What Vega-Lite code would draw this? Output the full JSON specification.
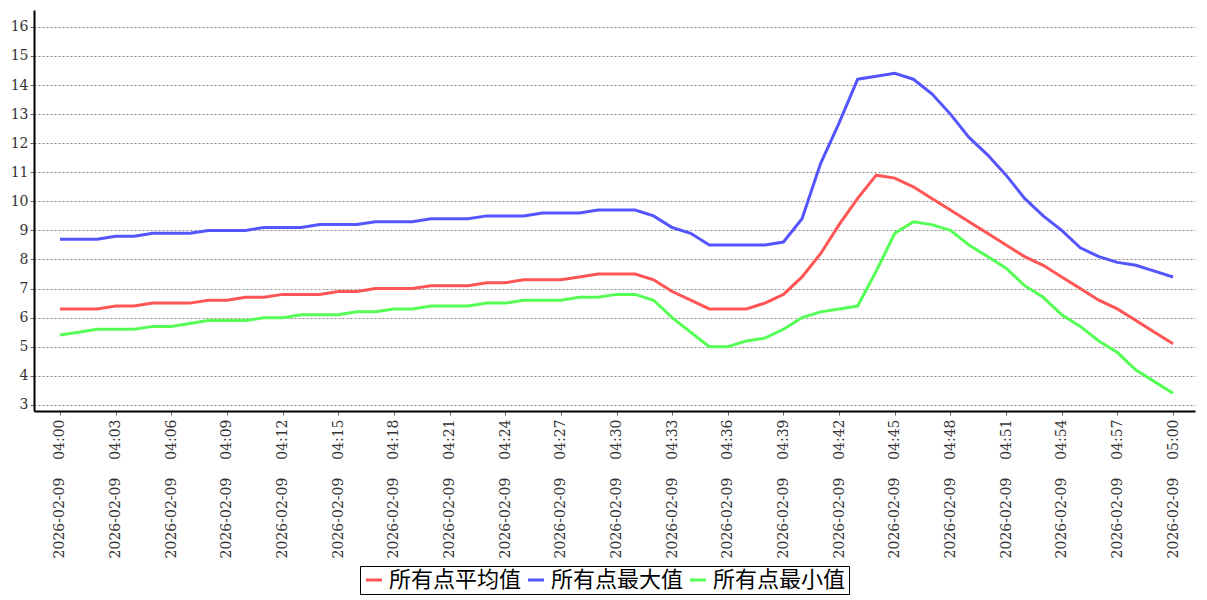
{
  "$schema": "https://vega.github.io/schema/vega-lite/v6.json",
  "width": 1161,
  "height": 401,
  "autosize": {"type": "none"},
  "padding": {"left": 34, "top": 10, "right": 12, "bottom": 189},
  "background": "white",
  "config": {"view": {"stroke": null}},
  "data": {"values": [
    {"t":"2026-02-09T04:00","所有点平均值":6.3,"所有点最大值":8.7,"所有点最小值":5.4},
    {"t":"2026-02-09T04:01","所有点平均值":6.3,"所有点最大值":8.7,"所有点最小值":5.5},
    {"t":"2026-02-09T04:02","所有点平均值":6.3,"所有点最大值":8.7,"所有点最小值":5.6},
    {"t":"2026-02-09T04:03","所有点平均值":6.4,"所有点最大值":8.8,"所有点最小值":5.6},
    {"t":"2026-02-09T04:04","所有点平均值":6.4,"所有点最大值":8.8,"所有点最小值":5.6},
    {"t":"2026-02-09T04:05","所有点平均值":6.5,"所有点最大值":8.9,"所有点最小值":5.7},
    {"t":"2026-02-09T04:06","所有点平均值":6.5,"所有点最大值":8.9,"所有点最小值":5.7},
    {"t":"2026-02-09T04:07","所有点平均值":6.5,"所有点最大值":8.9,"所有点最小值":5.8},
    {"t":"2026-02-09T04:08","所有点平均值":6.6,"所有点最大值":9.0,"所有点最小值":5.9},
    {"t":"2026-02-09T04:09","所有点平均值":6.6,"所有点最大值":9.0,"所有点最小值":5.9},
    {"t":"2026-02-09T04:10","所有点平均值":6.7,"所有点最大值":9.0,"所有点最小值":5.9},
    {"t":"2026-02-09T04:11","所有点平均值":6.7,"所有点最大值":9.1,"所有点最小值":6.0},
    {"t":"2026-02-09T04:12","所有点平均值":6.8,"所有点最大值":9.1,"所有点最小值":6.0},
    {"t":"2026-02-09T04:13","所有点平均值":6.8,"所有点最大值":9.1,"所有点最小值":6.1},
    {"t":"2026-02-09T04:14","所有点平均值":6.8,"所有点最大值":9.2,"所有点最小值":6.1},
    {"t":"2026-02-09T04:15","所有点平均值":6.9,"所有点最大值":9.2,"所有点最小值":6.1},
    {"t":"2026-02-09T04:16","所有点平均值":6.9,"所有点最大值":9.2,"所有点最小值":6.2},
    {"t":"2026-02-09T04:17","所有点平均值":7.0,"所有点最大值":9.3,"所有点最小值":6.2},
    {"t":"2026-02-09T04:18","所有点平均值":7.0,"所有点最大值":9.3,"所有点最小值":6.3},
    {"t":"2026-02-09T04:19","所有点平均值":7.0,"所有点最大值":9.3,"所有点最小值":6.3},
    {"t":"2026-02-09T04:20","所有点平均值":7.1,"所有点最大值":9.4,"所有点最小值":6.4},
    {"t":"2026-02-09T04:21","所有点平均值":7.1,"所有点最大值":9.4,"所有点最小值":6.4},
    {"t":"2026-02-09T04:22","所有点平均值":7.1,"所有点最大值":9.4,"所有点最小值":6.4},
    {"t":"2026-02-09T04:23","所有点平均值":7.2,"所有点最大值":9.5,"所有点最小值":6.5},
    {"t":"2026-02-09T04:24","所有点平均值":7.2,"所有点最大值":9.5,"所有点最小值":6.5},
    {"t":"2026-02-09T04:25","所有点平均值":7.3,"所有点最大值":9.5,"所有点最小值":6.6},
    {"t":"2026-02-09T04:26","所有点平均值":7.3,"所有点最大值":9.6,"所有点最小值":6.6},
    {"t":"2026-02-09T04:27","所有点平均值":7.3,"所有点最大值":9.6,"所有点最小值":6.6},
    {"t":"2026-02-09T04:28","所有点平均值":7.4,"所有点最大值":9.6,"所有点最小值":6.7},
    {"t":"2026-02-09T04:29","所有点平均值":7.5,"所有点最大值":9.7,"所有点最小值":6.7},
    {"t":"2026-02-09T04:30","所有点平均值":7.5,"所有点最大值":9.7,"所有点最小值":6.8},
    {"t":"2026-02-09T04:31","所有点平均值":7.5,"所有点最大值":9.7,"所有点最小值":6.8},
    {"t":"2026-02-09T04:32","所有点平均值":7.3,"所有点最大值":9.5,"所有点最小值":6.6},
    {"t":"2026-02-09T04:33","所有点平均值":6.9,"所有点最大值":9.1,"所有点最小值":6.0},
    {"t":"2026-02-09T04:34","所有点平均值":6.6,"所有点最大值":8.9,"所有点最小值":5.5},
    {"t":"2026-02-09T04:35","所有点平均值":6.3,"所有点最大值":8.5,"所有点最小值":5.0},
    {"t":"2026-02-09T04:36","所有点平均值":6.3,"所有点最大值":8.5,"所有点最小值":5.0},
    {"t":"2026-02-09T04:37","所有点平均值":6.3,"所有点最大值":8.5,"所有点最小值":5.2},
    {"t":"2026-02-09T04:38","所有点平均值":6.5,"所有点最大值":8.5,"所有点最小值":5.3},
    {"t":"2026-02-09T04:39","所有点平均值":6.8,"所有点最大值":8.6,"所有点最小值":5.6},
    {"t":"2026-02-09T04:40","所有点平均值":7.4,"所有点最大值":9.4,"所有点最小值":6.0},
    {"t":"2026-02-09T04:41","所有点平均值":8.2,"所有点最大值":11.3,"所有点最小值":6.2},
    {"t":"2026-02-09T04:42","所有点平均值":9.2,"所有点最大值":12.7,"所有点最小值":6.3},
    {"t":"2026-02-09T04:43","所有点平均值":10.1,"所有点最大值":14.2,"所有点最小值":6.4},
    {"t":"2026-02-09T04:44","所有点平均值":10.9,"所有点最大值":14.3,"所有点最小值":7.6},
    {"t":"2026-02-09T04:45","所有点平均值":10.8,"所有点最大值":14.4,"所有点最小值":8.9},
    {"t":"2026-02-09T04:46","所有点平均值":10.5,"所有点最大值":14.2,"所有点最小值":9.3},
    {"t":"2026-02-09T04:47","所有点平均值":10.1,"所有点最大值":13.7,"所有点最小值":9.2},
    {"t":"2026-02-09T04:48","所有点平均值":9.7,"所有点最大值":13.0,"所有点最小值":9.0},
    {"t":"2026-02-09T04:49","所有点平均值":9.3,"所有点最大值":12.2,"所有点最小值":8.5},
    {"t":"2026-02-09T04:50","所有点平均值":8.9,"所有点最大值":11.6,"所有点最小值":8.1},
    {"t":"2026-02-09T04:51","所有点平均值":8.5,"所有点最大值":10.9,"所有点最小值":7.7},
    {"t":"2026-02-09T04:52","所有点平均值":8.1,"所有点最大值":10.1,"所有点最小值":7.1},
    {"t":"2026-02-09T04:53","所有点平均值":7.8,"所有点最大值":9.5,"所有点最小值":6.7},
    {"t":"2026-02-09T04:54","所有点平均值":7.4,"所有点最大值":9.0,"所有点最小值":6.1},
    {"t":"2026-02-09T04:55","所有点平均值":7.0,"所有点最大值":8.4,"所有点最小值":5.7},
    {"t":"2026-02-09T04:56","所有点平均值":6.6,"所有点最大值":8.1,"所有点最小值":5.2},
    {"t":"2026-02-09T04:57","所有点平均值":6.3,"所有点最大值":7.9,"所有点最小值":4.8},
    {"t":"2026-02-09T04:58","所有点平均值":5.9,"所有点最大值":7.8,"所有点最小值":4.2},
    {"t":"2026-02-09T04:59","所有点平均值":5.5,"所有点最大值":7.6,"所有点最小值":3.8},
    {"t":"2026-02-09T05:00","所有点平均值":5.1,"所有点最大值":7.4,"所有点最小值":3.4}
  ]},
  "transform": [
    {"fold": ["所有点平均值", "所有点最大值", "所有点最小值"], "as": ["s", "v"]}
  ],
  "mark": {"type": "line", "strokeWidth": 3},
  "encoding": {
    "x": {
      "field": "t",
      "type": "temporal",
      "scale": {
        "domain": [
          {"year": 2026, "month": 2, "date": 9, "hours": 3, "minutes": 58, "seconds": 36},
          {"year": 2026, "month": 2, "date": 9, "hours": 5, "minutes": 1, "seconds": 11}
        ],
        "nice": false
      },
      "axis": {
        "title": null,
        "values": [
          {"year": 2026, "month": 2, "date": 9, "hours": 4, "minutes": 0},
          {"year": 2026, "month": 2, "date": 9, "hours": 4, "minutes": 3},
          {"year": 2026, "month": 2, "date": 9, "hours": 4, "minutes": 6},
          {"year": 2026, "month": 2, "date": 9, "hours": 4, "minutes": 9},
          {"year": 2026, "month": 2, "date": 9, "hours": 4, "minutes": 12},
          {"year": 2026, "month": 2, "date": 9, "hours": 4, "minutes": 15},
          {"year": 2026, "month": 2, "date": 9, "hours": 4, "minutes": 18},
          {"year": 2026, "month": 2, "date": 9, "hours": 4, "minutes": 21},
          {"year": 2026, "month": 2, "date": 9, "hours": 4, "minutes": 24},
          {"year": 2026, "month": 2, "date": 9, "hours": 4, "minutes": 27},
          {"year": 2026, "month": 2, "date": 9, "hours": 4, "minutes": 30},
          {"year": 2026, "month": 2, "date": 9, "hours": 4, "minutes": 33},
          {"year": 2026, "month": 2, "date": 9, "hours": 4, "minutes": 36},
          {"year": 2026, "month": 2, "date": 9, "hours": 4, "minutes": 39},
          {"year": 2026, "month": 2, "date": 9, "hours": 4, "minutes": 42},
          {"year": 2026, "month": 2, "date": 9, "hours": 4, "minutes": 45},
          {"year": 2026, "month": 2, "date": 9, "hours": 4, "minutes": 48},
          {"year": 2026, "month": 2, "date": 9, "hours": 4, "minutes": 51},
          {"year": 2026, "month": 2, "date": 9, "hours": 4, "minutes": 54},
          {"year": 2026, "month": 2, "date": 9, "hours": 4, "minutes": 57},
          {"year": 2026, "month": 2, "date": 9, "hours": 5, "minutes": 0}
        ],
        "format": "%Y-%m-%d\u00a0\u00a0\u00a0\u00a0%H:%M",
        "labelAngle": 270,
        "labelFont": "DejaVu Serif",
        "labelFontSize": 14,
        "labelColor": "#333333",
        "labelPadding": 4,
        "labelOverlap": false,
        "grid": false,
        "domainColor": "#000000",
        "domainWidth": 2,
        "tickColor": "#666666",
        "tickSize": 4
      }
    },
    "y": {
      "field": "v",
      "type": "quantitative",
      "scale": {"domain": [2.79, 16.58], "nice": false, "zero": false},
      "axis": {
        "title": null,
        "values": [3,4,5,6,7,8,9,10,11,12,13,14,15,16],
        "labelFont": "DejaVu Serif",
        "labelFontSize": 14,
        "labelColor": "#333333",
        "labelPadding": 2,
        "grid": true,
        "gridColor": "#888888",
        "gridDash": [2, 2],
        "gridWidth": 1,
        "domainColor": "#000000",
        "domainWidth": 2,
        "tickColor": "#666666",
        "tickSize": 4
      }
    },
    "color": {
      "field": "s",
      "type": "nominal",
      "scale": {
        "domain": ["所有点平均值", "所有点最大值", "所有点最小值"],
        "range": ["#FF5555", "#5555FF", "#55FF55"]
      },
      "legend": {
        "title": null,
        "orient": "none",
        "direction": "horizontal",
        "legendX": 326,
        "legendY": 556,
        "symbolType": "stroke",
        "symbolSize": 256,
        "symbolStrokeWidth": 3,
        "labelFont": "Noto Sans CJK SC",
        "labelFontSize": 22,
        "labelColor": "#000000",
        "labelOffset": 4,
        "columnPadding": 0,
        "padding": 3,
        "strokeColor": "#000000",
        "fillColor": "#ffffff"
      }
    }
  }
}
